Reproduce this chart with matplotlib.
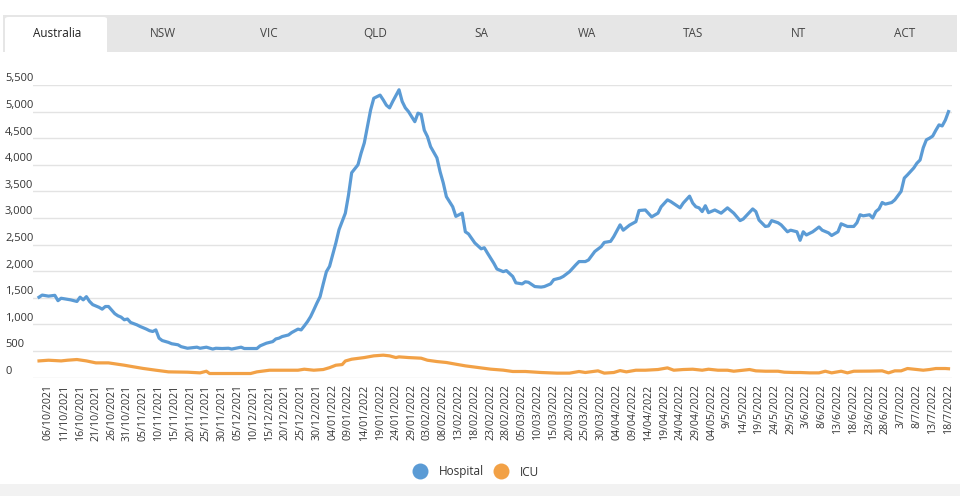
import matplotlib
matplotlib.use("Agg")
import matplotlib.pyplot as plt
from matplotlib.patches import Rectangle, FancyBboxPatch
from matplotlib.lines import Line2D
import matplotlib.transforms as mtransforms
from datetime import datetime, timedelta

# ---------------- data ----------------
tabs = ["Australia", "NSW", "VIC", "QLD", "SA", "WA", "TAS", "NT", "ACT"]

hosp_dates = [
    "2021-10-03", "2021-10-04", "2021-10-06", "2021-10-08", "2021-10-09", "2021-10-10", "2021-10-12",
    "2021-10-13", "2021-10-15", "2021-10-16", "2021-10-17", "2021-10-18", "2021-10-19", "2021-10-20",
    "2021-10-22", "2021-10-23", "2021-10-24", "2021-10-25", "2021-10-27", "2021-10-28", "2021-10-29",
    "2021-10-30", "2021-10-31", "2021-11-01", "2021-11-03", "2021-11-04", "2021-11-06", "2021-11-07",
    "2021-11-08", "2021-11-09", "2021-11-10", "2021-11-11", "2021-11-13", "2021-11-14", "2021-11-16",
    "2021-11-17", "2021-11-19", "2021-11-22", "2021-11-23", "2021-11-25", "2021-11-27", "2021-11-28",
    "2021-11-30", "2021-12-02", "2021-12-03", "2021-12-06", "2021-12-07", "2021-12-09", "2021-12-11",
    "2021-12-12", "2021-12-14", "2021-12-16", "2021-12-17", "2021-12-18", "2021-12-19", "2021-12-20",
    "2021-12-21", "2021-12-22", "2021-12-24", "2021-12-25", "2021-12-26", "2021-12-27", "2021-12-28",
    "2021-12-29", "2021-12-30", "2021-12-31", "2022-01-01", "2022-01-02", "2022-01-03", "2022-01-05",
    "2022-01-06", "2022-01-08", "2022-01-09", "2022-01-10", "2022-01-12", "2022-01-13", "2022-01-14",
    "2022-01-15", "2022-01-16", "2022-01-17", "2022-01-19", "2022-01-20", "2022-01-21", "2022-01-22",
    "2022-01-23", "2022-01-25", "2022-01-26", "2022-01-27", "2022-01-28", "2022-01-30", "2022-01-31",
    "2022-02-01", "2022-02-02", "2022-02-03", "2022-02-04", "2022-02-06", "2022-02-07", "2022-02-08",
    "2022-02-09", "2022-02-11", "2022-02-12", "2022-02-14", "2022-02-15", "2022-02-16", "2022-02-18",
    "2022-02-20", "2022-02-21", "2022-02-22", "2022-02-24", "2022-02-25", "2022-02-27", "2022-02-28",
    "2022-03-02", "2022-03-03", "2022-03-05", "2022-03-06", "2022-03-07", "2022-03-09", "2022-03-11",
    "2022-03-12", "2022-03-14", "2022-03-15", "2022-03-17", "2022-03-18", "2022-03-20", "2022-03-22",
    "2022-03-23", "2022-03-25", "2022-03-26", "2022-03-28", "2022-03-30", "2022-03-31", "2022-04-02",
    "2022-04-03", "2022-04-05", "2022-04-06", "2022-04-08", "2022-04-10", "2022-04-11", "2022-04-13",
    "2022-04-15", "2022-04-17", "2022-04-18", "2022-04-20", "2022-04-21", "2022-04-24", "2022-04-25",
    "2022-04-27", "2022-04-28", "2022-04-29", "2022-04-30", "2022-05-01", "2022-05-02", "2022-05-03",
    "2022-05-05", "2022-05-07", "2022-05-09", "2022-05-11", "2022-05-13", "2022-05-14", "2022-05-17",
    "2022-05-18", "2022-05-19", "2022-05-21", "2022-05-22", "2022-05-23", "2022-05-25", "2022-05-26",
    "2022-05-28", "2022-05-29", "2022-05-31", "2022-06-01", "2022-06-02", "2022-06-03", "2022-06-05",
    "2022-06-07", "2022-06-08", "2022-06-10", "2022-06-11", "2022-06-13", "2022-06-14", "2022-06-16",
    "2022-06-18", "2022-06-19", "2022-06-20", "2022-06-21", "2022-06-23", "2022-06-24", "2022-06-25",
    "2022-06-26", "2022-06-27", "2022-06-28", "2022-06-30", "2022-07-01", "2022-07-03", "2022-07-04",
    "2022-07-05", "2022-07-07", "2022-07-08", "2022-07-09", "2022-07-10", "2022-07-11", "2022-07-12",
    "2022-07-13", "2022-07-14", "2022-07-15", "2022-07-16", "2022-07-17", "2022-07-18",
]
hosp_values = [
    1510, 1550, 1530, 1545, 1445, 1490, 1470,
    1460, 1430, 1510, 1460, 1520, 1430, 1370,
    1320, 1285, 1335, 1335, 1200, 1160, 1135,
    1085, 1100, 1035, 990, 960, 910, 880,
    865, 895, 740, 695, 660, 635, 615,
    580, 550, 570, 550, 570, 535, 550,
    545, 550, 535, 570, 545, 545, 545,
    595, 645, 675, 725, 740, 770, 785,
    800, 845, 910, 895, 970, 1050, 1145,
    1270, 1400, 1520, 1760, 1990, 2090, 2530,
    2780, 3090, 3430, 3850, 4000, 4220, 4410,
    4720, 5030, 5250, 5310, 5220, 5120, 5070,
    5190, 5410, 5190, 5070, 5000, 4810, 4970,
    4950, 4650, 4530, 4340, 4130, 3870, 3660,
    3400, 3210, 3030, 3090, 2740, 2700, 2530,
    2420, 2440, 2340, 2150, 2040, 1990, 2010,
    1900, 1780, 1760, 1800, 1790, 1710, 1700,
    1710, 1760, 1840, 1870, 1900, 1990, 2120,
    2180, 2180, 2210, 2370, 2460, 2540, 2560,
    2650, 2870, 2770, 2865, 2930, 3140, 3150,
    3020, 3090, 3210, 3340, 3310, 3190, 3280,
    3410, 3280, 3210, 3190, 3120, 3230, 3100,
    3150, 3090, 3190, 3090, 2950, 2980, 3170,
    3120, 2960, 2840, 2850, 2950, 2910, 2870,
    2740, 2770, 2740, 2580, 2740, 2680, 2740,
    2830, 2770, 2720, 2670, 2740, 2890, 2840,
    2840, 2910, 3060, 3040, 3060, 3000, 3120,
    3170, 3290, 3260, 3290, 3340, 3500, 3750,
    3810, 3940, 4030, 4090, 4320, 4470, 4500,
    4540, 4650, 4750, 4730, 4840, 5000,
]

icu_dates = [
    "2021-10-03", "2021-10-06", "2021-10-10", "2021-10-12", "2021-10-15", "2021-10-18", "2021-10-21",
    "2021-10-25", "2021-10-30", "2021-11-02", "2021-11-05", "2021-11-09", "2021-11-13", "2021-11-19",
    "2021-11-23", "2021-11-25", "2021-11-26", "2021-11-30", "2021-12-06", "2021-12-09", "2021-12-11",
    "2021-12-15", "2021-12-19", "2021-12-24", "2021-12-26", "2021-12-29", "2022-01-01", "2022-01-03",
    "2022-01-05", "2022-01-07", "2022-01-08", "2022-01-10", "2022-01-14", "2022-01-17", "2022-01-20",
    "2022-01-22", "2022-01-24", "2022-01-25", "2022-01-28", "2022-02-01", "2022-02-03", "2022-02-06",
    "2022-02-09", "2022-02-12", "2022-02-15", "2022-02-19", "2022-02-23", "2022-02-27", "2022-03-02",
    "2022-03-06", "2022-03-11", "2022-03-16", "2022-03-20", "2022-03-23", "2022-03-25", "2022-03-29",
    "2022-03-31", "2022-04-03", "2022-04-05", "2022-04-07", "2022-04-10", "2022-04-13", "2022-04-17",
    "2022-04-20", "2022-04-22", "2022-04-25", "2022-04-28", "2022-05-01", "2022-05-03", "2022-05-06",
    "2022-05-09", "2022-05-11", "2022-05-14", "2022-05-16", "2022-05-18", "2022-05-21", "2022-05-25",
    "2022-05-27", "2022-05-30", "2022-06-01", "2022-06-04", "2022-06-07", "2022-06-09", "2022-06-11",
    "2022-06-14", "2022-06-16", "2022-06-18", "2022-06-23", "2022-06-27", "2022-06-29", "2022-07-01",
    "2022-07-03", "2022-07-05", "2022-07-08", "2022-07-10", "2022-07-12", "2022-07-14", "2022-07-17",
    "2022-07-18",
]
icu_values = [
    312, 325, 312, 325, 338, 312, 275,
    275, 231, 200, 170, 137, 106, 100,
    87, 118, 75, 75, 75, 75, 106,
    137, 137, 137, 156, 137, 150, 185,
    231, 243, 310, 344, 375, 407, 420,
    407, 375, 388, 375, 363, 325, 300,
    282, 250, 219, 188, 157, 138, 113,
    113, 94, 82, 82, 113, 94, 125,
    82, 94, 130, 106, 137, 137, 150,
    181, 137, 150, 156, 137, 156, 137,
    137, 118, 137, 150, 125, 118, 118,
    100, 94, 94, 87, 87, 118, 87,
    118, 87, 118, 120, 125, 87, 125,
    125, 169, 150, 137, 150, 169, 169,
    165,
]

tick_labels = [
    "06/10/2021", "11/10/2021", "16/10/2021", "21/10/2021", "26/10/2021", "31/10/2021",
    "05/11/2021", "10/11/2021", "15/11/2021", "20/11/2021", "25/11/2021", "30/11/2021",
    "05/12/2021", "10/12/2021", "15/12/2021", "20/12/2021", "25/12/2021", "30/12/2021",
    "04/01/2022", "09/01/2022", "14/01/2022", "19/01/2022", "24/01/2022", "29/01/2022",
    "03/02/2022", "08/02/2022", "13/02/2022", "18/02/2022", "23/02/2022", "28/02/2022",
    "05/03/2022", "10/03/2022", "15/03/2022", "20/03/2022", "25/03/2022", "30/03/2022",
    "04/04/2022", "09/04/2022", "14/04/2022", "19/04/2022", "24/04/2022", "29/04/2022",
    "04/05/2022", "9/5/2022", "14/5/2022", "19/5/2022", "24/5/2022", "29/5/2022",
    "3/6/2022", "8/6/2022", "13/6/2022", "18/6/2022", "23/6/2022", "28/6/2022",
    "3/7/2022", "8/7/2022", "13/7/2022", "18/7/2022",
]
y_ticks = [0, 500, 1000, 1500, 2000, 2500, 3000, 3500, 4000, 4500, 5000, 5500]
series_names = ["Hospital", "ICU"]

# ---------------- styling ----------------
W, H = 960, 496
BLUE = "#5b9bd5"
ORANGE = "#f2a146"
TXT = "#333333"
FONT = ["Open Sans", "DejaVu Sans"]
plt.rcParams["font.family"] = FONT

fig = plt.figure(figsize=(W / 100, H / 100), dpi=100)
fig.patch.set_facecolor("white")


def fx(px):
    return px / W


def fy(py):
    return 1 - py / H


# tab bar
fig.patches.append(Rectangle((fx(3), fy(52)), fx(954), 37 / H, transform=fig.transFigure,
                             facecolor="#e6e6e6", edgecolor="none", zorder=0))
fig.patches.append(FancyBboxPatch((fx(5), fy(56)), fx(102), 39 / H,
                                  boxstyle="round,pad=0,rounding_size=0.004",
                                  transform=fig.transFigure, facecolor="white",
                                  edgecolor="none", zorder=1, mutation_aspect=1))
fig.patches.append(Rectangle((0, fy(496)), 1, 12 / H, transform=fig.transFigure,
                             facecolor="#f2f2f2", edgecolor="none", zorder=0))
for i, t in enumerate(tabs):
    fig.text(fx(57 + 106 * i), fy(33.5), t, ha="center", va="center", fontsize=8.5,
             color="#222222" if i == 0 else "#444444", zorder=3)

# axes
left, right, top, bottom = 33, 952, 85, 377.5
ax = fig.add_axes([fx(left), fy(bottom), (right - left) / W, (bottom - top) / H])
ax.set_facecolor("white")

hd = [datetime.strptime(d, "%Y-%m-%d") for d in hosp_dates]
idt = [datetime.strptime(d, "%Y-%m-%d") for d in icu_dates]
ax.plot(hd, hosp_values, color=BLUE, lw=2.3, solid_joinstyle="round", zorder=3, clip_on=False)
ax.plot(idt, icu_values, color=ORANGE, lw=2.3, solid_joinstyle="round", zorder=3, clip_on=False)

tick_dates = [datetime.strptime(t, "%d/%m/%Y") for t in tick_labels]
px_per_day = (948.5 - 48.5) / (tick_dates[-1] - tick_dates[0]).days
x0 = tick_dates[0] - timedelta(days=(48.5 - left) / px_per_day)
x1 = tick_dates[-1] + timedelta(days=(right - 948.5) / px_per_day)
ax.set_xlim(x0, x1)
ax.set_ylim(0, 5500)

ax.set_xticks(tick_dates)
ax.set_xticklabels(tick_labels, rotation=90, fontsize=7.6, color=TXT, ha="center", va="top")
ax.tick_params(axis="x", length=0, pad=5)

ax.set_yticks(y_ticks)
ax.set_yticklabels([])
ax.tick_params(axis="y", length=0)
ax.grid(axis="y", color="#e3e3e3", lw=1)
ax.set_axisbelow(True)
for s in ax.spines.values():
    s.set_visible(False)

ytrans = mtransforms.offset_copy(ax.get_yaxis_transform(), fig=fig, x=0, y=6, units="dots")
for v in y_ticks:
    ax.text((5 - left) / (right - left), v, f"{v:,}", transform=ytrans, ha="left", va="center",
            fontsize=8, color=TXT, clip_on=False)

# legend
handles = [Line2D([], [], marker="o", linestyle="", markersize=11.5, color=BLUE, markeredgewidth=0),
           Line2D([], [], marker="o", linestyle="", markersize=11.5, color=ORANGE, markeredgewidth=0)]
leg = fig.legend(handles, series_names, loc="center", bbox_to_anchor=(fx(476), fy(472)), ncol=2,
                 frameon=False, fontsize=8.5, handletextpad=1.0, columnspacing=0.8,
                 handlelength=1.2)
for t in leg.get_texts():
    t.set_color(TXT)

fig.savefig("out.png", dpi=100, facecolor="white")
